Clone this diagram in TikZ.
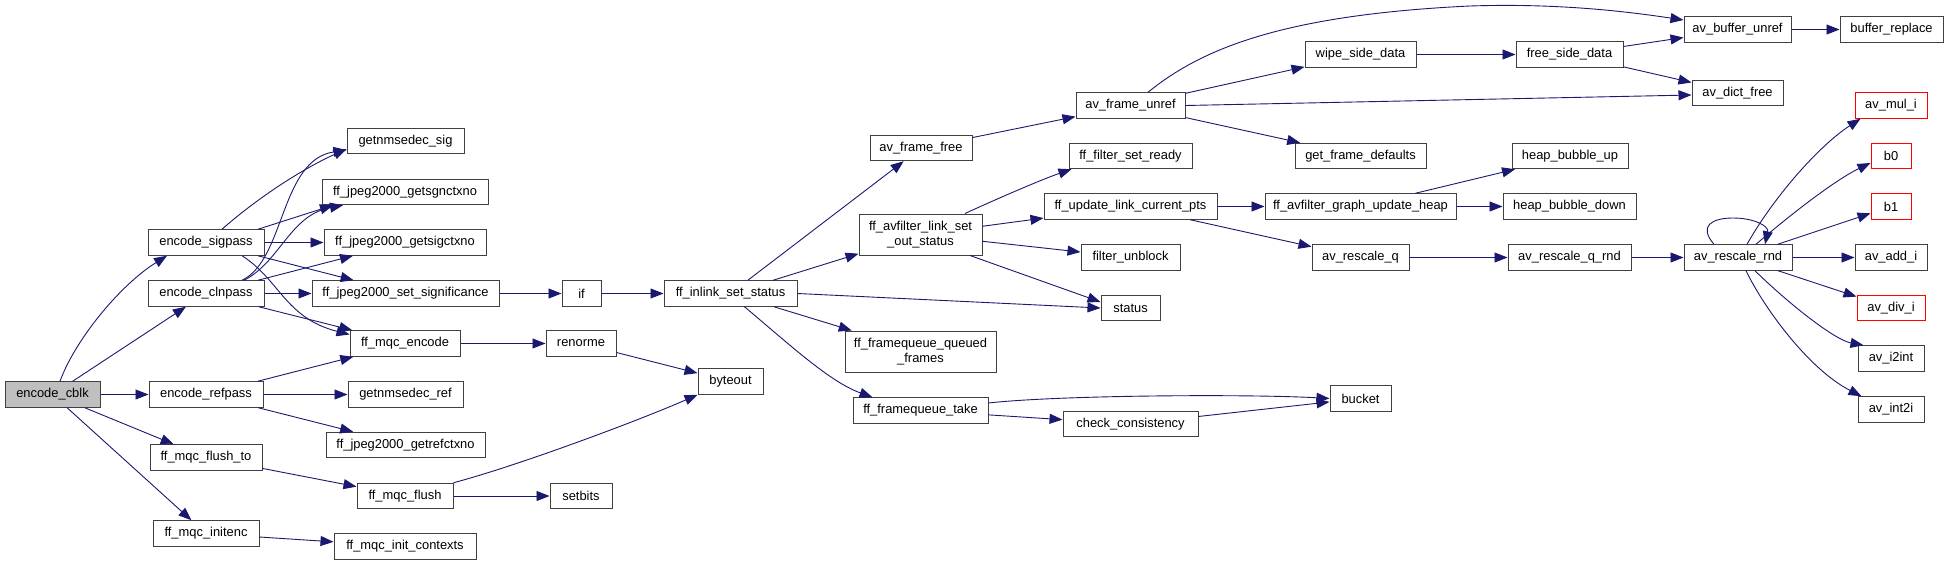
\documentclass[tikz,border=0pt]{standalone}
\usepackage{fontspec}
\setmainfont{Liberation Sans}
\usetikzlibrary{arrows.meta}
\definecolor{edgec}{RGB}{25,25,112}
\definecolor{boxc}{RGB}{64,64,64}
\definecolor{cblkfill}{RGB}{191,191,191}
\begin{document}
\begin{tikzpicture}[x=1pt,y=-1pt,
  fn/.style={draw=boxc, line width=1pt, fill=white, rectangle, inner sep=0pt, minimum height=25.5pt, font=\fontsize{12.9}{14.5}\selectfont, align=center},
  tall/.style={minimum height=41pt},
  redbox/.style={draw=red},
  edge/.style={draw=edgec, line width=0.9pt, -{Triangle[length=13pt,width=10pt]}},
]
\fill[white] (0,0) rectangle (1948,565);
\useasboundingbox (0,0) rectangle (1948,565);

\node[fn, minimum width=95pt, fill=cblkfill] (cblk) at (52.5,394.5) {encode\_cblk};
\node[fn, minimum width=116pt] (sigpass) at (206,242.5) {encode\_sigpass};
\node[fn, minimum width=116pt] (clnpass) at (206,293.5) {encode\_clnpass};
\node[fn, minimum width=114pt] (refpass) at (206,394.5) {encode\_refpass};
\node[fn, minimum width=112pt] (flushto) at (206,457.5) {ff\_mqc\_flush\_to};
\node[fn, minimum width=106pt] (initenc) at (206,533.5) {ff\_mqc\_initenc};
\node[fn, minimum width=117pt] (nmsig) at (405.5,141) {getnmsedec\_sig};
\node[fn, minimum width=166pt] (sgnctx) at (405,192) {ff\_jpeg2000\_getsgnctxno};
\node[fn, minimum width=162pt] (sigctx) at (405,242.5) {ff\_jpeg2000\_getsigctxno};
\node[fn, minimum width=187pt] (setsig) at (405.5,293.5) {ff\_jpeg2000\_set\_significance};
\node[fn, minimum width=110pt] (mqcenc) at (405,343.5) {ff\_mqc\_encode};
\node[fn, minimum width=115pt] (nmref) at (405.5,394.5) {getnmsedec\_ref};
\node[fn, minimum width=159pt] (refctx) at (405.5,445) {ff\_jpeg2000\_getrefctxno};
\node[fn, minimum width=96pt] (mqcflush) at (405,496) {ff\_mqc\_flush};
\node[fn, minimum width=142pt] (initctx) at (405,546.5) {ff\_mqc\_init\_contexts};
\node[fn, minimum width=39pt] (if) at (581.5,293.5) {if};
\node[fn, minimum width=70pt] (renorme) at (581,343.5) {renorme};
\node[fn, minimum width=62pt] (setbits) at (581,496) {setbits};
\node[fn, minimum width=65pt] (byteout) at (730.5,381.5) {byteout};
\node[fn, minimum width=133pt] (inlink) at (730.5,293.5) {ff\_inlink\_set\_status};
\node[fn, minimum width=102pt] (framefree) at (921,148) {av\_frame\_free};
\node[fn, tall, minimum width=123pt] (linkout) at (920.5,234.5) {ff\_avfilter\_link\_set\\\_out\_status};
\node[fn, tall, minimum width=151pt] (queued) at (920.5,351.5) {ff\_framequeue\_queued\\\_frames};
\node[fn, minimum width=135pt] (take) at (920.5,410.5) {ff\_framequeue\_take};
\node[fn, minimum width=109pt] (unref) at (1130.5,105.5) {av\_frame\_unref};
\node[fn, minimum width=123pt] (ready) at (1130.5,156) {ff\_filter\_set\_ready};
\node[fn, minimum width=173pt] (updpts) at (1130.5,206.5) {ff\_update\_link\_current\_pts};
\node[fn, minimum width=99pt] (unblock) at (1130.5,257.5) {filter\_unblock};
\node[fn, minimum width=59pt] (status) at (1130.5,308) {status};
\node[fn, minimum width=135pt] (check) at (1130.5,424) {check\_consistency};
\node[fn, minimum width=111pt] (wipe) at (1360.5,54.5) {wipe\_side\_data};
\node[fn, minimum width=131pt] (defaults) at (1360.5,156) {get\_frame\_defaults};
\node[fn, minimum width=191pt] (heap) at (1360.5,206.5) {ff\_avfilter\_graph\_update\_heap};
\node[fn, minimum width=97pt] (rescq) at (1360.5,257.5) {av\_rescale\_q};
\node[fn, minimum width=61pt] (bucket) at (1360.5,398.5) {bucket};
\node[fn, minimum width=107pt] (freeside) at (1569.5,54.5) {free\_side\_data};
\node[fn, minimum width=116pt] (bubup) at (1570,156) {heap\_bubble\_up};
\node[fn, minimum width=133pt] (bubdown) at (1569.5,206.5) {heap\_bubble\_down};
\node[fn, minimum width=123pt] (rescqrnd) at (1569.5,257.5) {av\_rescale\_q\_rnd};
\node[fn, minimum width=107pt] (bufunref) at (1737.5,29.5) {av\_buffer\_unref};
\node[fn, minimum width=91pt] (dictfree) at (1737.5,93) {av\_dict\_free};
\node[fn, minimum width=108pt] (rescrnd) at (1738,257.5) {av\_rescale\_rnd};
\node[fn, minimum width=103pt] (bufrep) at (1891.5,29.5) {buffer\_replace};
\node[fn, redbox, minimum width=72pt] (muli) at (1891,105.5) {av\_mul\_i};
\node[fn, redbox, minimum width=40pt] (bzero) at (1891,156) {b0};
\node[fn, redbox, minimum width=40pt] (bone) at (1891,206.5) {b1};
\node[fn, minimum width=72pt] (addi) at (1891,257.5) {av\_add\_i};
\node[fn, redbox, minimum width=68pt] (divi) at (1891,308) {av\_div\_i};
\node[fn, minimum width=66pt] (itoint) at (1891,358.5) {av\_i2int};
\node[fn, minimum width=66pt] (inttoi) at (1891,409.5) {av\_int2i};

\draw[edge] ([xshift=7.5pt]cblk.north) .. controls (75,340) and (120,285) .. ([xshift=-39pt]sigpass.south);
\draw[edge] (cblk) -- (clnpass);
\draw[edge] (cblk) -- (refpass);
\draw[edge] (cblk) -- (flushto);
\draw[edge] (cblk) -- (initenc);
\draw[edge] ([xshift=16pt]sigpass.north) .. controls (255,200) and (300,170) .. ([yshift=-8pt]nmsig.west);
\draw[edge] ([xshift=52pt]sigpass.north) -- ([xshift=-72pt]sgnctx.south);
\draw[edge] (sigpass) -- (sigctx);
\draw[edge] (sigpass) -- (setsig);
\draw[edge] ([xshift=36pt]sigpass.south) .. controls (280,280) and (285,318) .. ([yshift=9pt]mqcenc.west);
\draw[edge] ([xshift=36pt]clnpass.north) .. controls (285,260) and (280,160) .. ([yshift=-9pt]nmsig.west);
\draw[edge] ([xshift=38pt]clnpass.north) .. controls (280,262) and (290,215) .. ([xshift=-62pt]sgnctx.south);
\draw[edge] ([xshift=52pt]clnpass.north) -- ([xshift=-52pt]sigctx.south);
\draw[edge] (clnpass) -- (setsig);
\draw[edge] (clnpass) -- (mqcenc);
\draw[edge] (refpass) -- (mqcenc);
\draw[edge] (refpass) -- (nmref);
\draw[edge] (refpass) -- (refctx);
\draw[edge] (flushto) -- (mqcflush);
\draw[edge] (mqcflush.north east) .. controls (520,465) and (640,420) .. (byteout.south west);
\draw[edge] (mqcflush) -- (setbits);
\draw[edge] (initenc) -- (initctx);
\draw[edge] (mqcenc) -- (renorme);
\draw[edge] (renorme) -- (byteout);
\draw[edge] (setsig) -- (if);
\draw[edge] (if) -- (inlink);
\draw[edge] (inlink) -- (framefree);
\draw[edge] (inlink) -- (linkout);
\draw[edge] (inlink.east) -- (status.west);
\draw[edge] (inlink) -- (queued);
\draw[edge] ([xshift=14pt]inlink.south) .. controls (790,345) and (830,382) .. ([xshift=-48pt]take.north);
\draw[edge] (framefree) -- (unref);
\draw[edge] ([xshift=44.5pt]linkout.north) .. controls (990,202) and (1040,180) .. ([xshift=3pt]ready.south west);
\draw[edge] (linkout) -- (updpts);
\draw[edge] (linkout) -- (unblock);
\draw[edge] ([xshift=49.5pt]linkout.south) -- ([yshift=6pt]status.west);
\draw[edge] ([yshift=7.5pt]take.east) .. controls (1060,395) and (1250,394) .. (bucket.west);
\draw[edge] (take) -- (check);
\draw[edge] (check) -- (bucket);
\draw[edge] ([xshift=17.5pt]unref.north) .. controls (1200,50) and (1280,15) .. (1470,6) .. controls (1560,3) and (1630,12) .. ([yshift=9.5pt]bufunref.west);
\draw[edge] (unref) -- (wipe);
\draw[edge] (unref.east) -- ([yshift=-2pt]dictfree.west);
\draw[edge] (unref) -- (defaults);
\draw[edge] (wipe) -- (freeside);
\draw[edge] (freeside) -- (bufunref);
\draw[edge] (freeside) -- (dictfree);
\draw[edge] (bufunref) -- (bufrep);
\draw[edge] (updpts) -- (heap);
\draw[edge] (updpts) -- (rescq);
\draw[edge] (heap) -- (bubup);
\draw[edge] (heap) -- (bubdown);
\draw[edge] (rescq) -- (rescqrnd);
\draw[edge] (rescqrnd) -- (rescrnd);
\draw[edge] ([xshift=-24pt]rescrnd.north) .. controls (1698,226) and (1712,218) .. (1733,218) .. controls (1754,218) and (1769,226) .. ([xshift=27pt]rescrnd.north);
\draw[edge] ([xshift=9pt]rescrnd.north) .. controls (1775,195) and (1820,145) .. ([xshift=6pt]muli.south west);
\draw[edge] ([xshift=18pt]rescrnd.north) .. controls (1790,215) and (1835,180) .. ([yshift=-7pt]bzero.west);
\draw[edge] (rescrnd) -- (bone);
\draw[edge] (rescrnd) -- (addi);
\draw[edge] (rescrnd) -- (divi);
\draw[edge] ([xshift=17pt]rescrnd.south) .. controls (1790,305) and (1835,340) .. ([xshift=6pt]itoint.north west);
\draw[edge] ([xshift=8pt]rescrnd.south) .. controls (1765,310) and (1810,370) .. ([xshift=4pt]inttoi.north west);
\end{tikzpicture}
\end{document}
